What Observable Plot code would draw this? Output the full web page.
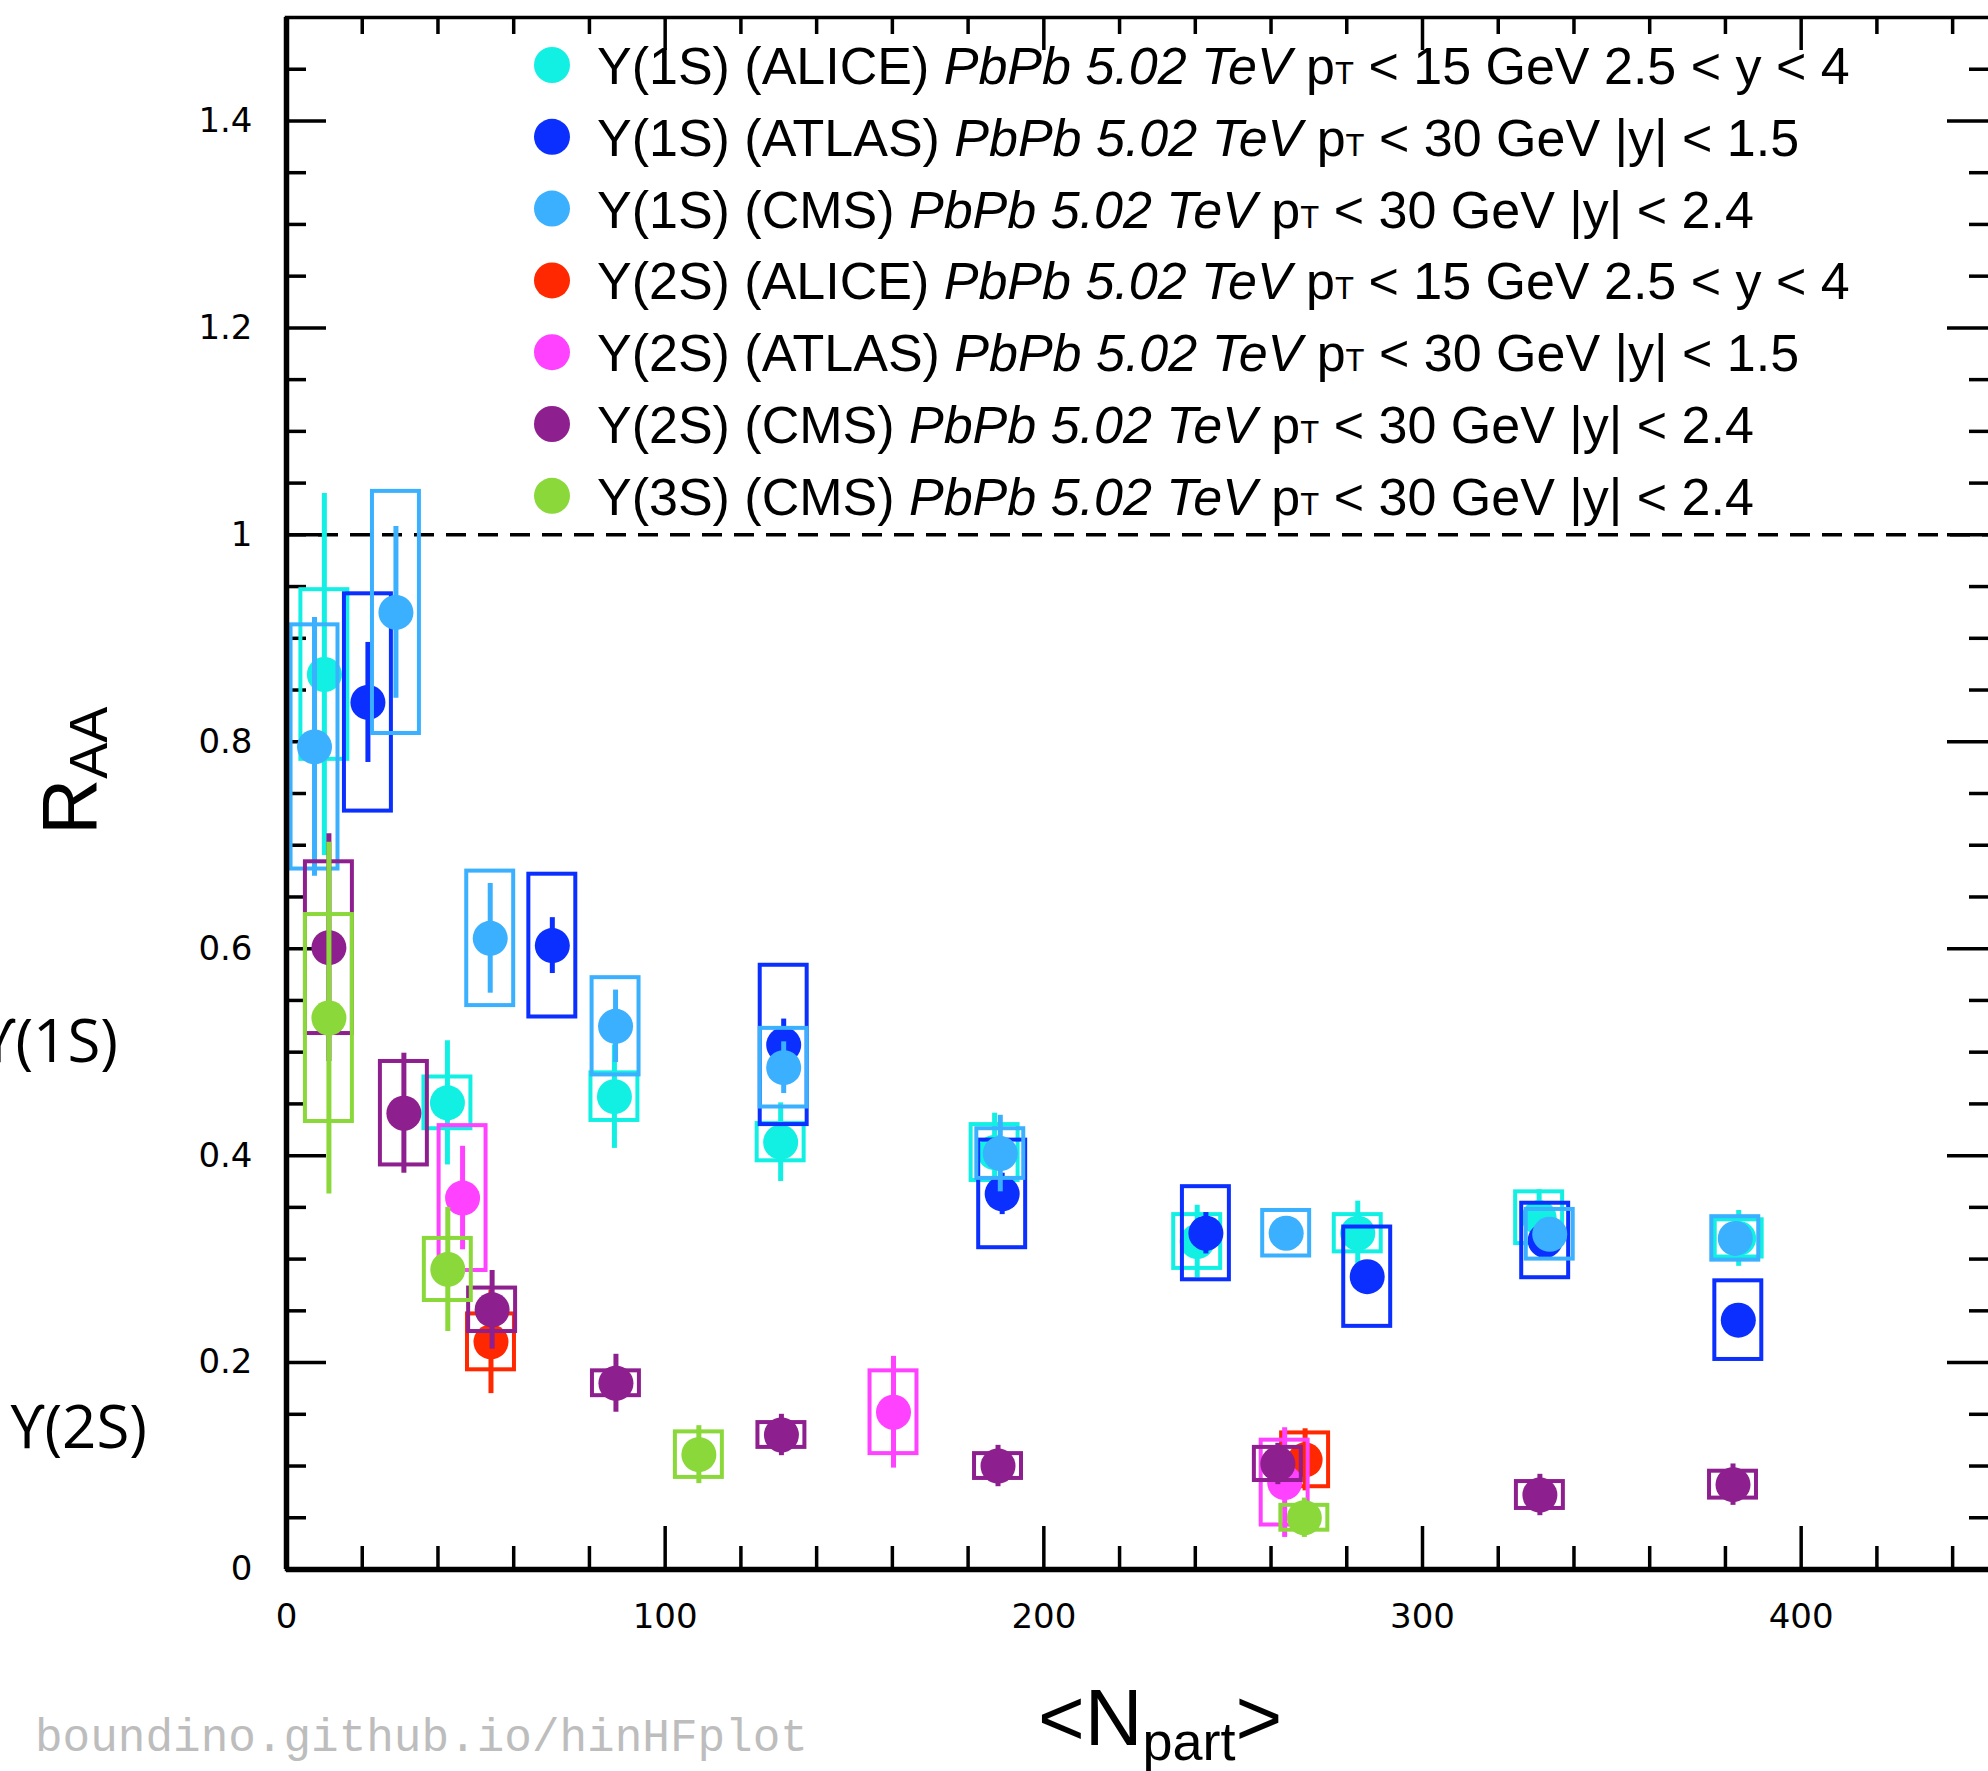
<!DOCTYPE html>
<html><head><meta charset="utf-8">
<script src="https://cdn.jsdelivr.net/npm/d3@7"></script>
<script src="https://cdn.jsdelivr.net/npm/@observablehq/plot@0.6"></script>
<style>
html,body{margin:0;padding:0;background:#fff;overflow:hidden;}
</style>
</head><body>
<div id="chart"></div>
<script>
// ---------- axis ticks ----------
const xTickLabels = [0, 100, 200, 300, 400];
const xMajorTicks = [100, 200, 300, 400];
const xMinorTicks = [20, 40, 60, 80, 120, 140, 160, 180, 220, 240, 260, 280, 320, 340, 360, 380, 420, 440];
const yTickLabels = [0, 0.2, 0.4, 0.6, 0.8, 1, 1.2, 1.4];
const yMinorTicks = [0.05, 0.1, 0.15, 0.25, 0.3, 0.35, 0.45, 0.5, 0.55, 0.65, 0.7, 0.75, 0.85, 0.9, 0.95, 1.05, 1.1, 1.15, 1.25, 1.3, 1.35, 1.45];

// ---------- data: <Npart>, RAA, stat. error, syst. error ----------
const alice1S_npart = [10, 42.5, 86.6, 130.5, 187, 240.5, 282.9, 330.8, 383.5];
const alice1S_raa   = [0.865, 0.451, 0.457, 0.413, 0.403, 0.317, 0.325, 0.340, 0.320];
const alice1S_stat  = [0.175, 0.06, 0.05, 0.038, 0.038, 0.035, 0.031, 0.027, 0.027];
const alice1S_syst  = [0.082, 0.025, 0.023, 0.018, 0.027, 0.026, 0.018, 0.025, 0.018];

const atlas1S_npart = [21.5, 70.2, 131.3, 189, 242.8, 285.4, 332.4, 383.4];
const atlas1S_raa   = [0.838, 0.603, 0.507, 0.363, 0.325, 0.283, 0.318, 0.241];
const atlas1S_stat  = [0.058, 0.027, 0.025, 0.02, 0.02, 0.015, 0.015, 0.015];
const atlas1S_syst  = [0.105, 0.069, 0.077, 0.052, 0.045, 0.048, 0.036, 0.038];

const cms1S_npart = [7.4, 28.9, 53.8, 86.9, 131.3, 188.5, 264, 333.6, 382.6];
const cms1S_raa   = [0.795, 0.925, 0.610, 0.525, 0.485, 0.402, 0.325, 0.324, 0.320];
const cms1S_stat  = [0.125, 0.083, 0.053, 0.035, 0.025, 0.037, 0.012, 0.015, 0.015];
const cms1S_syst  = [0.118, 0.117, 0.065, 0.047, 0.038, 0.024, 0.022, 0.024, 0.021];

const alice2S_npart = [54, 269];
const alice2S_raa   = [0.22, 0.106];
const alice2S_stat  = [0.05, 0.03];
const alice2S_syst  = [0.027, 0.026];

const atlas2S_npart = [46.5, 160.3, 263.6];
const atlas2S_raa   = [0.359, 0.152, 0.084];
const atlas2S_stat  = [0.05, 0.054, 0.053];
const atlas2S_syst  = [0.07, 0.04, 0.041];

const cms2S_npart = [11.2, 31, 54.3, 87, 130.7, 187.9, 261.8, 331, 382];
const cms2S_raa   = [0.601, 0.441, 0.251, 0.180, 0.130, 0.100, 0.102, 0.072, 0.082];
const cms2S_stat  = [0.11, 0.058, 0.038, 0.028, 0.02, 0.02, 0.02, 0.02, 0.02];
const cms2S_syst  = [0.083, 0.05, 0.021, 0.012, 0.012, 0.012, 0.016, 0.013, 0.013];

const cms3S_npart = [11.2, 42.6, 108.9, 268.8];
const cms3S_raa   = [0.533, 0.290, 0.111, 0.050];
const cms3S_stat  = [0.17, 0.06, 0.028, 0.019];
const cms3S_syst  = [0.1, 0.03, 0.022, 0.012];

// ---------- series / legend ----------
const seriesColors = ["#12F0E4", "#0A2FFF", "#3AB0FF", "#FF2800", "#FF42FF", "#8E1F8E", "#8AD83A"];
const legendState = ["\u03A5(1S)", "\u03A5(1S)", "\u03A5(1S)", "\u03A5(2S)", "\u03A5(2S)", "\u03A5(2S)", "\u03A5(3S)"];
const legendExperiment = ["(ALICE)", "(ATLAS)", "(CMS)", "(ALICE)", "(ATLAS)", "(CMS)", "(CMS)"];
const legendSystem = "PbPb 5.02 TeV";
const legendPtMax = ["15", "30", "30", "15", "30", "30", "30"];
const legendRapidity = ["2.5 < y < 4", "|y| < 1.5", "|y| < 2.4", "2.5 < y < 4", "|y| < 1.5", "|y| < 2.4", "|y| < 2.4"];
const sideLabels = ["\u03D2(1S)", "\u03D2(2S)"];
const watermark = "boundino.github.io/hinHFplot";

const seriesArrays = [
  [alice1S_npart, alice1S_raa, alice1S_stat, alice1S_syst],
  [atlas1S_npart, atlas1S_raa, atlas1S_stat, atlas1S_syst],
  [cms1S_npart, cms1S_raa, cms1S_stat, cms1S_syst],
  [alice2S_npart, alice2S_raa, alice2S_stat, alice2S_syst],
  [atlas2S_npart, atlas2S_raa, atlas2S_stat, atlas2S_syst],
  [cms2S_npart, cms2S_raa, cms2S_stat, cms2S_syst],
  [cms3S_npart, cms3S_raa, cms3S_stat, cms3S_syst]
];
const series = seriesArrays.map(([xs, ys, st, sy], k) =>
  xs.map((x, i) => ({x, y: ys[i], stat: st[i], syst: sy[i], color: seriesColors[k]})));

// ---------- layout ----------
const W = 2000, H = 1771, mL = 286, mR = 10, mT = 17, mB = 202;
const frameW = W - mL - mR, frameH = H - mT - mB;
const boxHalf = 6.2;

const dataMarks = series.flatMap(d => [
  Plot.rect(d, {x1: p => p.x - boxHalf, x2: p => p.x + boxHalf, y1: p => p.y - p.syst, y2: p => p.y + p.syst,
                fill: "none", stroke: d[0].color, strokeWidth: 4}),
  Plot.ruleX(d, {x: "x", y1: p => p.y - p.stat, y2: p => p.y + p.stat, stroke: d[0].color, strokeWidth: 5}),
  Plot.dot(d, {x: "x", y: "y", r: 17.5, fill: d[0].color, stroke: "none"})
]);

const tickStyle = {stroke: "black", strokeWidth: 3.5};
const svg = Plot.plot({
  width: W, height: H,
  marginLeft: mL, marginRight: mR, marginTop: mT, marginBottom: mB,
  style: {maxWidth: "none", overflow: "visible", fontFamily: "DejaVu Sans", color: "black", background: "white"},
  x: {domain: [0, 450], axis: null},
  y: {domain: [0, 1.5], axis: null},
  marks: [
    Plot.ruleY([1], {stroke: "black", strokeWidth: 3.5, strokeDasharray: "20,12"}),
    // left ticks
    Plot.tickY(yTickLabels.filter(v => v > 0), {...tickStyle, insetRight: frameW - 40}),
    Plot.tickY(yMinorTicks, {...tickStyle, insetRight: frameW - 20}),
    // right ticks
    Plot.tickY(yTickLabels.filter(v => v > 0), {...tickStyle, insetLeft: frameW - 43}),
    Plot.tickY(yMinorTicks, {...tickStyle, insetLeft: frameW - 21}),
    // bottom ticks
    Plot.tickX(xMajorTicks, {...tickStyle, insetTop: frameH - 43}),
    Plot.tickX(xMinorTicks, {...tickStyle, insetTop: frameH - 23}),
    // top ticks
    Plot.tickX(xMajorTicks, {...tickStyle, insetBottom: frameH - 33}),
    Plot.tickX(xMinorTicks, {...tickStyle, insetBottom: frameH - 17}),
    ...dataMarks,
    Plot.frame({stroke: "black", strokeWidth: 3.5}),
    Plot.ruleX([0], {stroke: "black", strokeWidth: 5.5}),
    Plot.ruleY([0], {stroke: "black", strokeWidth: 5.5}),
    Plot.axisX(xTickLabels, {tickSize: 0, tickPadding: 34, fontSize: 34, label: null, tickFormat: d => String(d)}),
    Plot.axisY(yTickLabels, {tickSize: 0, tickPadding: 34, fontSize: 34, label: null, tickFormat: d => String(d)})
  ]
});
document.getElementById("chart").appendChild(svg);

// ---------- annotations (text) ----------
const s = d3.select(svg);
const g = s.append("g").attr("fill", "black").attr("text-anchor", "start");

// Y axis title R_AA
const yt = g.append("text")
  .attr("text-anchor", "start")
  .attr("transform", "translate(96,835) rotate(-90)")
  .attr("font-family", "Liberation Sans, Arial, sans-serif")
  .attr("font-size", 78);
yt.append("tspan").text("R");
yt.append("tspan").attr("font-size", 54).attr("dy", 11).text("AA");

// X axis title <N_part>
const xt = g.append("text")
  .attr("text-anchor", "start")
  .attr("x", 1038).attr("y", 1745)
  .attr("font-family", "Liberation Sans, Arial, sans-serif")
  .attr("font-size", 80);
xt.append("tspan").text("<N");
xt.append("tspan").attr("font-size", 54).attr("dy", 15).text("part");
xt.append("tspan").attr("dy", -15).text(">");

// side labels (partially cut at left edge, as in the source figure)
g.append("text").attr("x", 118).attr("y", 1062).attr("text-anchor", "end")
  .attr("font-family", "Open Sans, Noto Sans, DejaVu Sans, sans-serif").attr("font-size", 60)
  .text(sideLabels[0]);
g.append("text").attr("x", 147).attr("y", 1448).attr("text-anchor", "end")
  .attr("font-family", "Open Sans, Noto Sans, DejaVu Sans, sans-serif").attr("font-size", 60)
  .text(sideLabels[1]);

// watermark
g.append("text").attr("x", 35).attr("y", 1751).attr("text-anchor", "start")
  .attr("font-family", "Liberation Mono, DejaVu Sans Mono, monospace").attr("font-size", 46)
  .attr("fill", "#bdbdbd").text(watermark);

// legend
const lg = s.append("g").attr("text-anchor", "start");
legendState.forEach((st, i) => {
  const cy = 65 + i * 71.8;
  lg.append("circle").attr("cx", 552).attr("cy", cy).attr("r", 18).attr("fill", seriesColors[i]);
  const t = lg.append("text").attr("x", 597).attr("y", cy + 19).attr("text-anchor", "start")
    .attr("font-family", "Liberation Sans, Arial, sans-serif").attr("font-size", 52)
    .attr("fill", "black").style("white-space", "pre");
  t.append("tspan").text(`${st} ${legendExperiment[i]} `);
  t.append("tspan").attr("font-style", "italic").text(legendSystem);
  t.append("tspan").text(" p");
  t.append("tspan").attr("font-size", 31).text("T");
  t.append("tspan").text(` < ${legendPtMax[i]} GeV ${legendRapidity[i]}`);
});
</script>
</body></html>
